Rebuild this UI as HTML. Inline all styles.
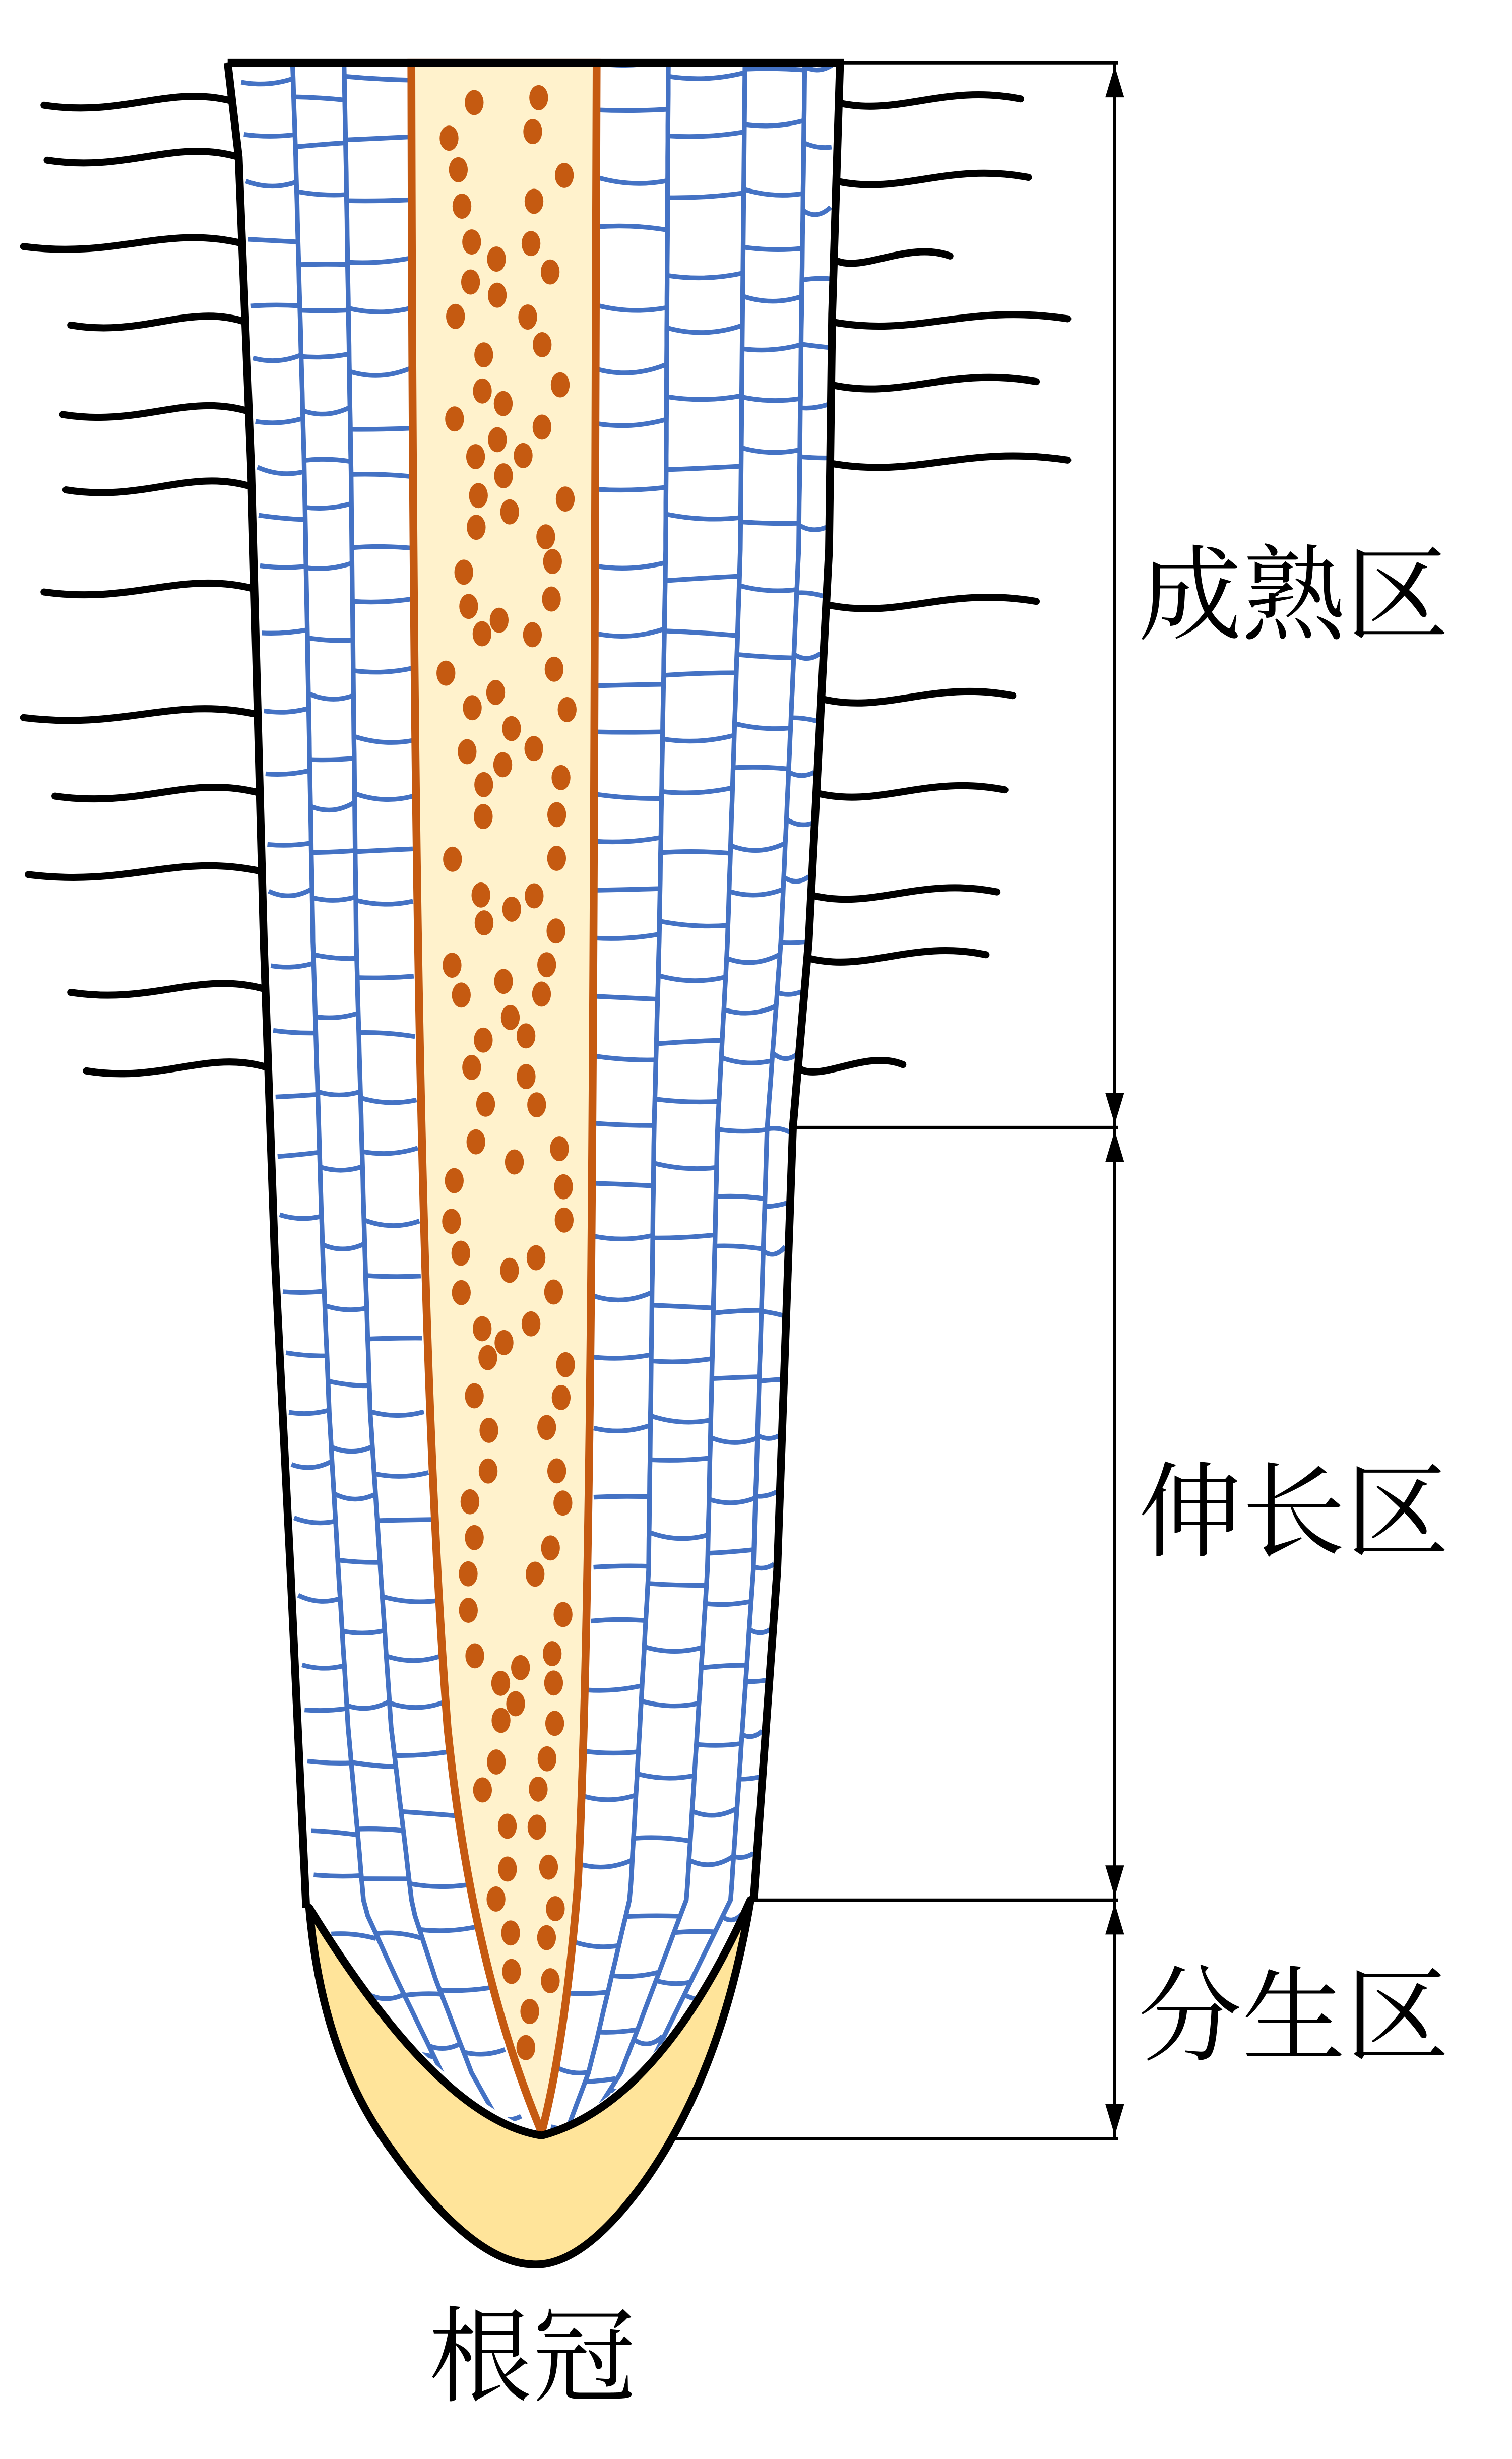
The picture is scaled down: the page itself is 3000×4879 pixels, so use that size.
<!DOCTYPE html>
<html><head><meta charset="utf-8"><style>
html,body{margin:0;padding:0;background:#fff}
svg{display:block}
text{font-family:"Liberation Serif","Noto Serif CJK SC","Noto Sans CJK SC",serif;fill:#000}
</style></head><body>
<svg id="s" width="3000" height="4879" viewBox="0 0 963 1566" preserveAspectRatio="none" xmlns="http://www.w3.org/2000/svg">
<defs>
<clipPath id="inner">
<path d="M147,40 L533,40 L530,200 L528,350 L515,600 L505,718 L495,1000 L480,1210 Q420,1330 345,1360 Q260,1320 197,1215 L185,1000 L175,800 L168,600 L160,300 L152,100 Z"/>
</clipPath>
</defs>
<g id="hairs" fill="none" stroke="#000" stroke-width="4.5" stroke-linecap="round"></g>
<path d="M147,40 L533,40 L530,200 L528,350 L515,600 L505,718 L495,1000 L480,1210 Q420,1330 345,1360 Q260,1320 197,1215 L185,1000 L175,800 L168,600 L160,300 L152,100 Z" fill="#fff"/>
<g id="cells" clip-path="url(#inner)" fill="none" stroke="#4472C4" stroke-width="3"></g>
<path d="M262,40 L380,40 C378,600 378,1000 368,1200 Q360,1300 345,1358 Q300,1250 285,1100 C270,900 263,600 262,40 Z" fill="#FFF2CC" stroke="#C55A11" stroke-width="5"/>
<g id="dots" fill="#C55A11"></g>
<path d="M197,1215 Q280,1350 345,1360 Q420,1340 478,1210 Q460,1320 410,1390 Q370,1445 338,1442 Q300,1440 250,1370 Q205,1310 197,1215 Z" fill="#FFE49A" stroke="#000" stroke-width="5" stroke-linejoin="round"/>
<path d="M145,40 L535,40 L530,200 L528,350 L515,600 L505,718 L495,1000 L480,1210" fill="none" stroke="#000" stroke-width="5"/>
<path d="M145,40 L152,100 L160,300 L168,600 L175,800 L185,1000 L195,1215" fill="none" stroke="#000" stroke-width="5"/>
<g stroke="#000" stroke-width="2" fill="none">
<line x1="535" y1="40" x2="712" y2="40"/>
<line x1="505" y1="718" x2="712" y2="718"/>
<line x1="478" y1="1210" x2="712" y2="1210"/>
<line x1="430" y1="1362" x2="712" y2="1362"/>
<line x1="710" y1="40" x2="710" y2="1362"/>
</g>
<g fill="#000">
<path d="M710,42 L704,62 L716,62 Z"/><path d="M710,716 L704,696 L716,696 Z"/>
<path d="M710,720 L704,740 L716,740 Z"/><path d="M710,1208 L704,1188 L716,1188 Z"/>
<path d="M710,1212 L704,1232 L716,1232 Z"/><path d="M710,1360 L704,1340 L716,1340 Z"/>
</g>
<text x="725" y="402" font-size="66">成熟区</text>
<text x="725" y="986" font-size="66">伸长区</text>
<text x="725" y="1307" font-size="66">分生区</text>
<text x="273" y="1524" font-size="66">根冠</text>
</svg>
<script>
var NS="http://www.w3.org/2000/svg";
function interp(pts,y){for(var i=0;i<pts.length-1;i++){if(y<=pts[i+1][1]){var a=pts[i],b=pts[i+1];var t=(y-a[1])/(b[1]-a[1]);return a[0]+t*(b[0]-a[0]);}}return pts[pts.length-1][0];}
var Lp=[[147,0],[152,100],[160,300],[168,600],[175,800],[185,1000],[197,1215],[260,1320],[345,1400]];
var Rp=[[533,0],[530,200],[528,350],[515,600],[505,718],[495,1000],[480,1210],[420,1320],[345,1400]];
var SLp=[[262,0],[263,600],[270,900],[285,1100],[310,1260],[345,1400]];
var SRp=[[380,0],[379,600],[378,1000],[368,1200],[358,1300],[345,1400]];
var seed=7;function rnd(){seed=(seed*9301+49297)%233280;return seed/233280;}
var cells=document.getElementById('cells');
function add(g,tag,attrs){var e=document.createElementNS(NS,tag);for(var k in attrs)e.setAttribute(k,attrs[k]);g.appendChild(e);return e;}
function col(A,B,f){return function(y){var a=interp(A,y),b=interp(B,y);return a+(b-a)*f;};}
var leftF=[col(Lp,SLp,0.33),col(Lp,SLp,0.62)];
var rightF=[col(SRp,Rp,0.3),col(SRp,Rp,0.62),col(SRp,Rp,0.87)];
var bounds=[function(y){return interp(Lp,y)+4;},leftF[0],leftF[1],function(y){return interp(SLp,y);},
 function(y){return interp(SRp,y);},rightF[0],rightF[1],rightF[2],function(y){return interp(Rp,y)-2;}];
[leftF[0],leftF[1],rightF[0],rightF[1],rightF[2]].forEach(function(f){
 var d="";for(var y=40;y<=1400;y+=10){d+=(y==40?"M":"L")+f(y).toFixed(1)+","+y;}add(cells,'path',{d:d});});
for(var c=0;c<bounds.length-1;c++){
 if(c==3)continue;
 var y=40+rnd()*25;
 while(y<1400){var x1=bounds[c](y),x2=bounds[c+1](y);
  var sag=(rnd()-0.2)*9;
  add(cells,'path',{d:"M"+x1.toFixed(1)+","+y.toFixed(1)+" Q"+((x1+x2)/2).toFixed(1)+","+(y+sag).toFixed(1)+" "+x2.toFixed(1)+","+(y+(rnd()-0.5)*6).toFixed(1)});
  y+=28+rnd()*22;}
}
var dots=document.getElementById('dots');
for(var y=62;y<1320;y+=23){
 var l=interp(SLp,y),r=interp(SRp,y),w=r-l;
 if(w>50){
  add(dots,'ellipse',{cx:(l+w*(0.18+rnd()*0.22)).toFixed(1),cy:(y+(rnd()-0.5)*8).toFixed(1),rx:6,ry:8});
  add(dots,'ellipse',{cx:(l+w*(0.6+rnd()*0.25)).toFixed(1),cy:(y+(rnd()-0.5)*8).toFixed(1),rx:6,ry:8});
  if(w>90 && rnd()>0.55){add(dots,'ellipse',{cx:(l+w*(0.45+rnd()*0.1)).toFixed(1),cy:(y+11).toFixed(1),rx:6,ry:8});}
 } else {
  add(dots,'ellipse',{cx:((l+r)/2+(rnd()-0.5)*w*0.3).toFixed(1),cy:y.toFixed(1),rx:6,ry:8});
 }
}
var hairs=document.getElementById('hairs');
var LH=[[65,28],[100,30],[155,15],[205,45],[262,40],[310,42],[375,28],[455,15],[505,35],[555,18],[630,45],[680,55]];
var RH=[[65,650],[115,655],[165,605],[205,680],[245,660],[295,680],[385,660],[445,645],[505,640],[570,635],[610,628],[680,575]];
LH.forEach(function(h){var y=h[0],x0=interp(Lp,y),x1=h[1],m=(x0+x1)/2;
 add(hairs,'path',{d:"M"+x0+","+y+" C"+(m+20)+","+(y-12)+" "+(m-10)+","+(y+10)+" "+x1+","+(y+2)});});
RH.forEach(function(h){var y=h[0],x0=interp(Rp,y),x1=h[1],m=(x0+x1)/2;
 add(hairs,'path',{d:"M"+x0+","+y+" C"+(m-20)+","+(y+10)+" "+(m+10)+","+(y-12)+" "+x1+","+(y-2)});});
</script>
</body></html>
